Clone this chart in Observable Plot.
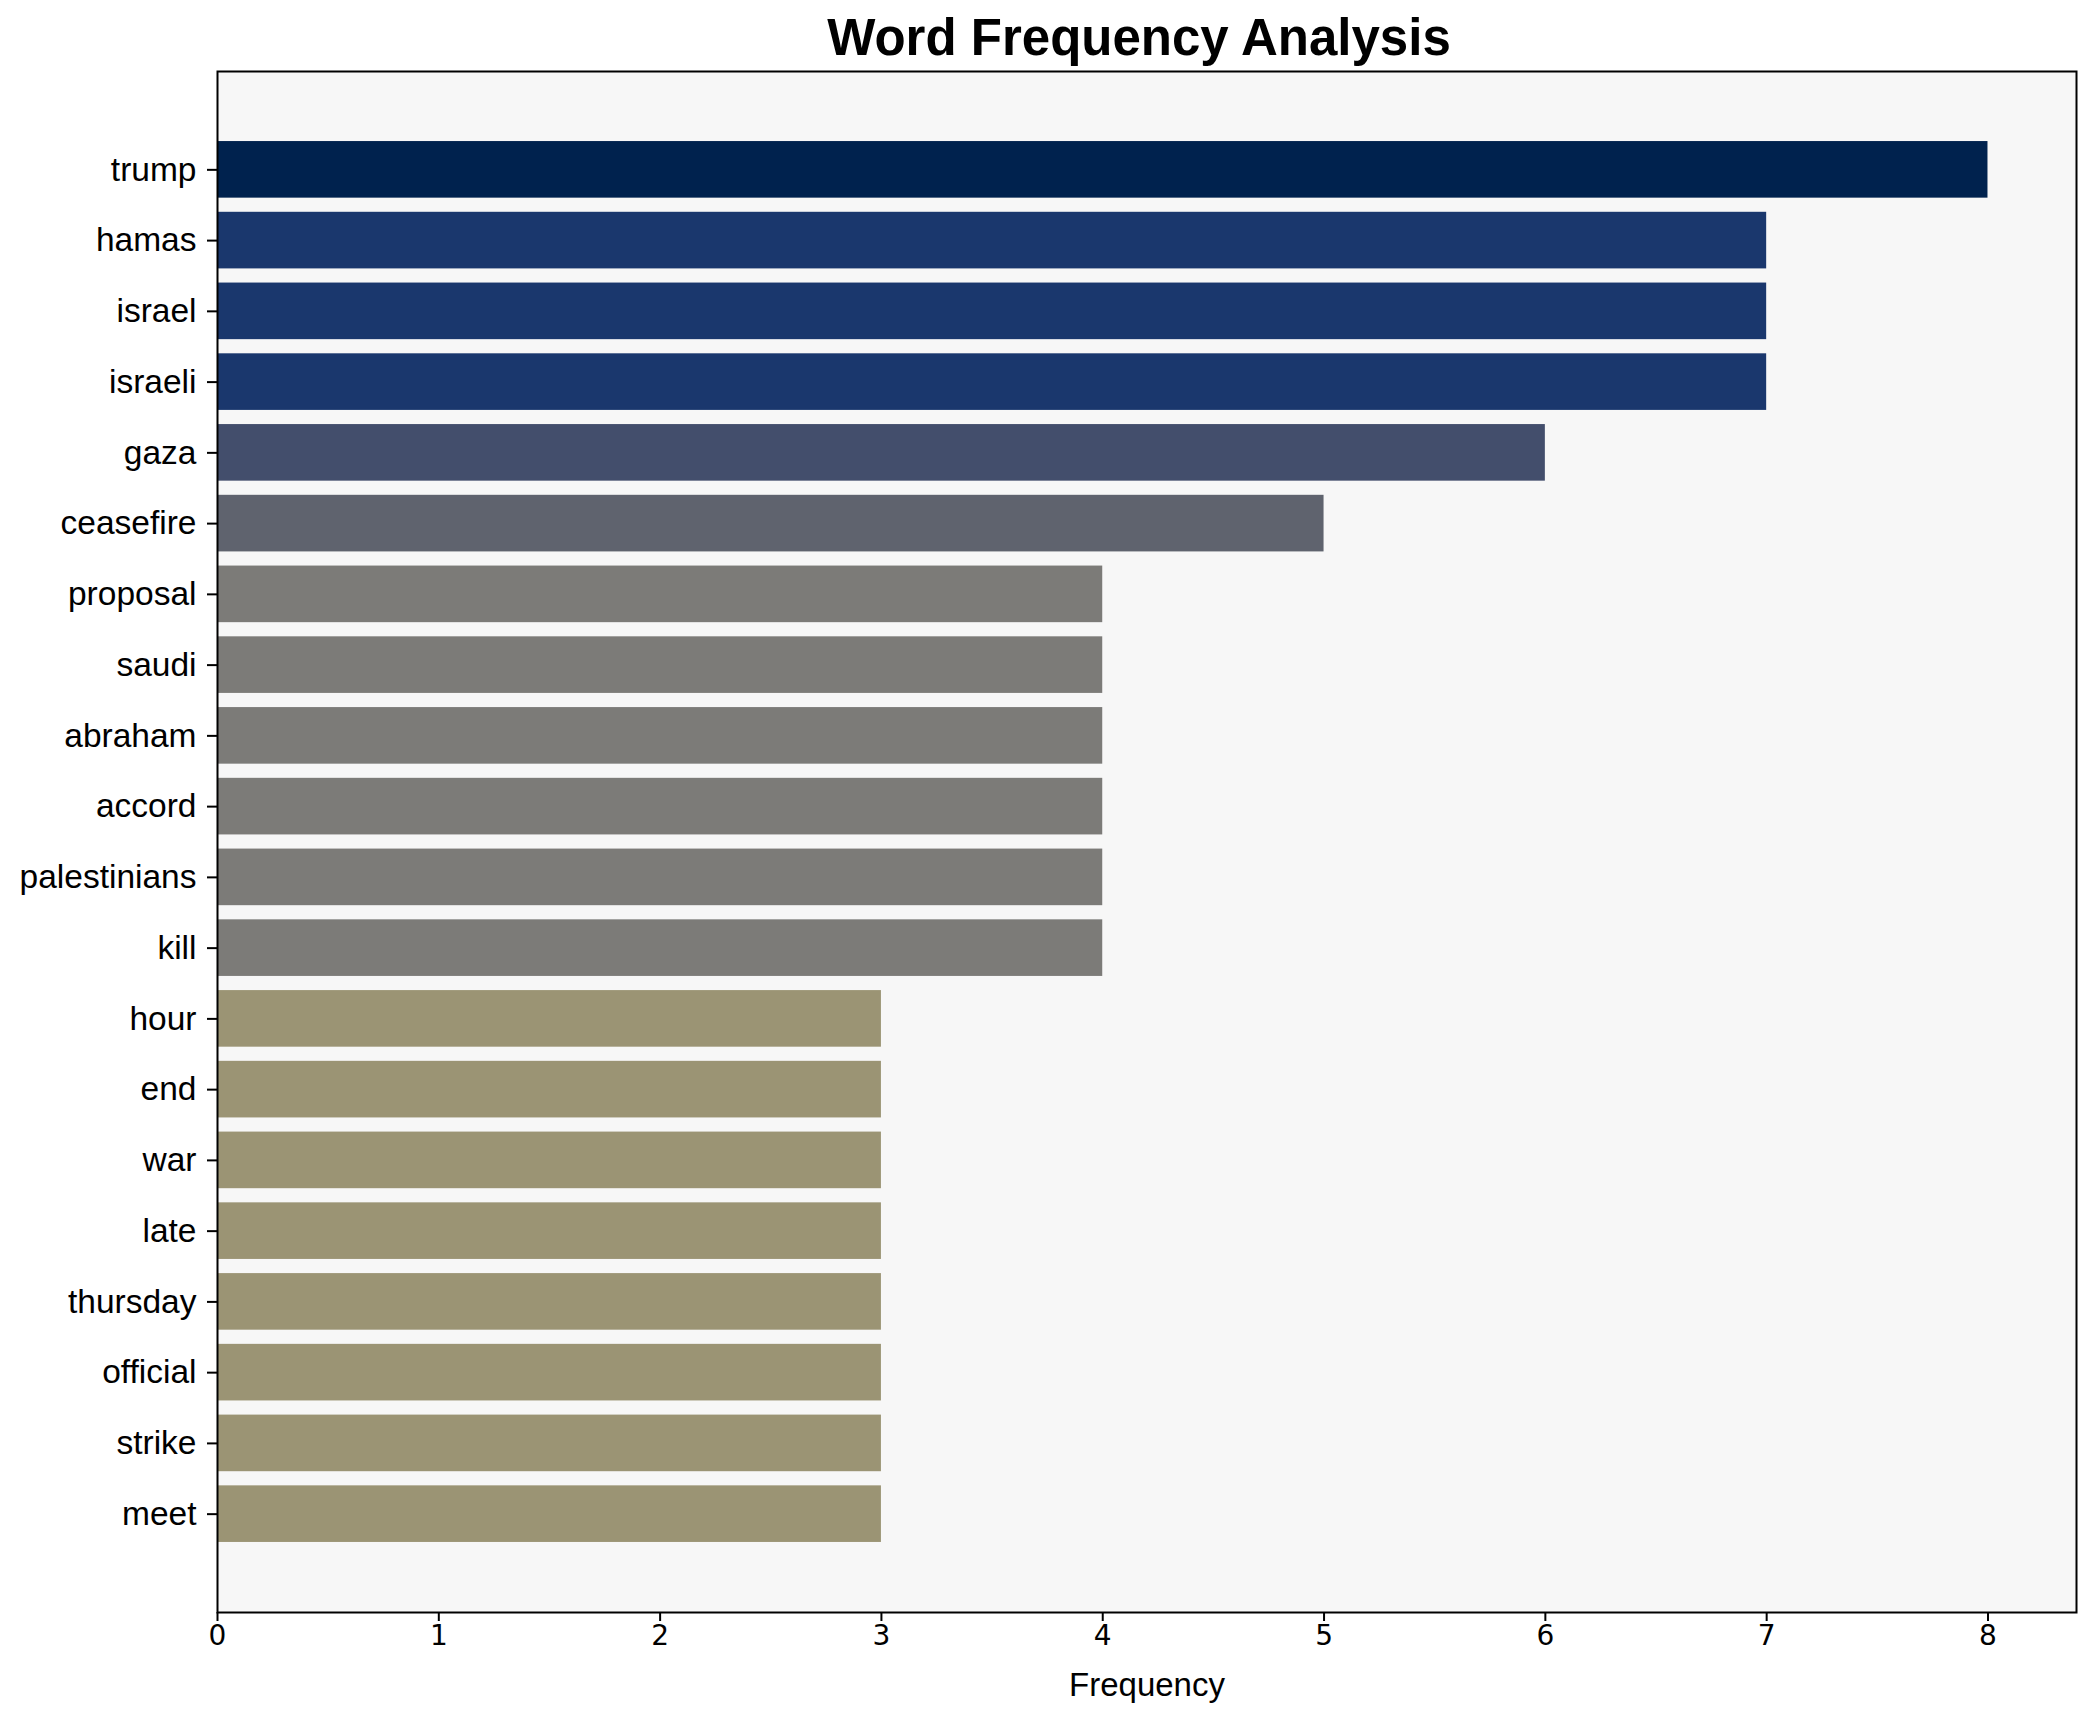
<!DOCTYPE html>
<html>
<head>
<meta charset="utf-8">
<script src="https://cdn.jsdelivr.net/npm/d3@7"></script>
<script src="https://cdn.jsdelivr.net/npm/@observablehq/plot@0.6"></script>
<style>
  html, body { margin: 0; padding: 0; background: #ffffff; }
  #wrap { position: relative; width: 2095px; height: 1722px; }
  #title { position: absolute; left: 1139px; top: 12px; transform: translateX(-50%);
    font-family: "Liberation Sans", Arial, sans-serif; font-weight: bold; font-size: 51px;
    line-height: 51px; white-space: nowrap; color: #000; }
  #chart { position: absolute; left: 0; top: 70px; }
</style>
</head>
<body>
<div id="wrap">
  <div id="title">Word Frequency Analysis</div>
  <div id="chart"></div>
</div>
<script>
const words = ["trump","hamas","israel","israeli","gaza","ceasefire","proposal","saudi","abraham","accord","palestinians","kill","hour","end","war","late","thursday","official","strike","meet"];
const counts = [8,7,7,7,6,5,4,4,4,4,4,4,3,3,3,3,3,3,3,3];
const xTicks = [0,1,2,3,4,5,6,7,8];
const colorLevels = [8,7,6,5,4,3];
const colorRange = ["#00224e","#1a376d","#434e6c","#5f636e","#7c7b78","#9b9474"];

const data = words.map((w, i) => ({word: w, count: counts[i]}));

const plot = Plot.plot({
  width: 2095,
  height: 1651,
  marginTop: 1,
  marginBottom: 109,
  marginLeft: 217,
  marginRight: 19,
  style: {background: "transparent", fontFamily: "'Liberation Sans', Arial, sans-serif"},
  x: {domain: [0, 8.4], ticks: xTicks},
  y: {domain: words, paddingInner: 0.2, paddingOuter: 0.99, round: false},
  color: {type: "ordinal", domain: colorLevels, range: colorRange},
  marks: [
    Plot.frame({fill: "#f7f7f7", stroke: null}),
    Plot.barX(data, {x: "count", y: "word", fill: "count"}),
    Plot.frame({stroke: "#000", strokeWidth: 2, fill: "none"}),
    Plot.axisX({ticks: xTicks, tickSize: 9, tickPadding: 4, strokeWidth: 2, label: null,
      fontSize: 28, fontFamily: "'DejaVu Sans', sans-serif", tickFormat: d => String(d)}),
    Plot.axisY({tickSize: 10, tickPadding: 11, strokeWidth: 2, label: null,
      fontSize: 33.5, fontFamily: "'Liberation Sans', Arial, sans-serif"}),
    Plot.text(["Frequency"], {frameAnchor: "bottom", dy: 83, fontSize: 33,
      fontFamily: "'Liberation Sans', Arial, sans-serif", fill: "#000"})
  ]
});
document.getElementById("chart").appendChild(plot);
</script>
</body>
</html>
